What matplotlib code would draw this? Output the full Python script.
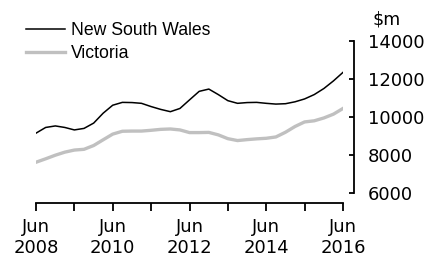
import matplotlib.pyplot as plt
import pandas as pd

plt.rcParams['font.family'] = ['Liberation Sans', 'DejaVu Sans']

# quarterly values, Jun 2008 - Jun 2016 ($m)
quarters = pd.date_range('2008-06-30', periods=33, freq='QE-DEC')
nsw = [9150, 9450, 9530, 9450, 9320, 9400, 9680, 10200, 10620, 10770, 10760,
       10720, 10550, 10400, 10280, 10450, 10900, 11350, 11470, 11180, 10860,
       10720, 10760, 10770, 10720, 10680, 10700, 10800, 10950, 11180, 11500,
       11900, 12350]
vic = [7620, 7800, 7990, 8150, 8260, 8300, 8500, 8800, 9100, 9250, 9260,
       9260, 9300, 9350, 9370, 9320, 9180, 9180, 9190, 9060, 8860, 8760,
       8810, 8850, 8880, 8950, 9200, 9500, 9740, 9800, 9950, 10150, 10450]

major_years = [2008, 2010, 2012, 2014, 2016]
minor_years = [2009, 2011, 2013, 2015]
y_ticks = [6000, 8000, 10000, 12000, 14000]

fig = plt.figure(figsize=(4.27, 2.64), dpi=100)
ax = fig.add_axes([0.0843, 0.2689, 0.719, 0.5758])

ax.plot(quarters, nsw, color='black', lw=1.1, label='New South Wales')
ax.plot(quarters, vic, color='#c0c0c0', lw=2.4, label='Victoria')

ax.set_xlim(quarters[0], quarters[-1])
ax.set_ylim(6000, 14000)

ax.set_xticks([pd.Timestamp(f'{y}-06-30') for y in major_years])
ax.set_xticklabels([f'Jun\n{y}' for y in major_years], linespacing=1.6)
ax.set_xticks([pd.Timestamp(f'{y}-06-30') for y in minor_years], minor=True)
ax.tick_params(axis='x', which='both', direction='out', length=6, width=1.3,
               labelsize=13, pad=5, labelfontfamily='DejaVu Sans')

ax.yaxis.tick_right()
ax.set_yticks(y_ticks)
ax.tick_params(axis='y', direction='in', length=3.5, width=1.3,
               labelsize=13, pad=10, labelfontfamily='DejaVu Sans')

for s in ['top', 'left']:
    ax.spines[s].set_visible(False)
ax.spines['right'].set_position(('outward', 8))
ax.spines['bottom'].set_position(('outward', 7.2))
ax.spines['right'].set_linewidth(1.3)
ax.spines['bottom'].set_linewidth(1.3)
ax.spines['right'].set_bounds(6000, 14000)

fig.text(0.905, 0.925, '$m', ha='center', va='center', fontsize=12.5,
         family='DejaVu Sans')

fig.legend(loc='upper left', bbox_to_anchor=(0.062, 0.915), frameon=False,
           fontsize=12.7, handlelength=2.2, handletextpad=0.3,
           labelspacing=0.3, borderpad=0, borderaxespad=0)

fig.savefig('out.png', dpi=100)
